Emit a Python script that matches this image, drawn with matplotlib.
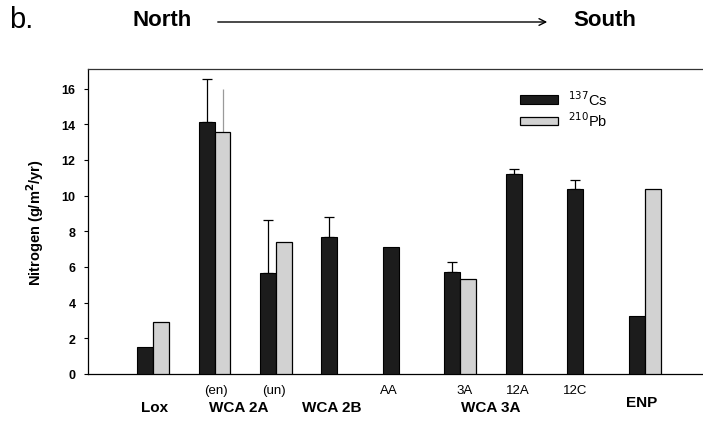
import numpy as np
import matplotlib
matplotlib.use("Agg")
import matplotlib.pyplot as plt

plt.rcParams['font.family'] = ['Liberation Sans', 'DejaVu Sans']

# ---- data ----
groups = ["Lox", "WCA 2A (en)", "WCA 2A (un)", "WCA 2B", "WCA 3A AA",
          "WCA 3A 3A", "WCA 3A 12A", "WCA 3A 12C", "ENP"]
cs_values = [1.5, 14.15, 5.68, 7.7, 7.1, 5.73, 11.24, 10.36, 3.27]
cs_err_up = [0, 2.4, 2.97, 1.1, 0, 0.53, 0.24, 0.51, 0]
pb_values = [2.9, 13.57, 7.38, np.nan, np.nan, 5.32, np.nan, np.nan, 10.4]
pb_err_up = [0, 2.4, 0, 0, 0, 0, 0, 0, 0]
yticks = [0, 2, 4, 6, 8, 10, 12, 14, 16]
sub_labels = ["(en)", "(un)", "AA", "3A", "12A", "12C"]
main_labels = ["Lox", "WCA 2A", "WCA 2B", "WCA 3A", "ENP"]

# ---- layout ----
sub_x = [1.03, 1.96, 3.83, 5.07, 5.93, 6.87]
main_x = [0.02, 1.39, 2.9, 5.5, 7.95]
main_y = [-0.108, -0.108, -0.108, -0.108, -0.092]

W, H = 703, 427
fig = plt.figure(figsize=(W / 100, H / 100), dpi=100)
ax = fig.add_axes([88 / W, 1 - 375 / H, (702 - 88) / W, (375 - 70) / H])

x = np.arange(len(groups))
w = 0.26
cs_color = '#1c1c1c'
pb_color = '#d2d2d2'

ax.bar(x - w / 2, cs_values, w, color=cs_color, edgecolor='black', linewidth=0.8,
       label=r'$^{137}$Cs', zorder=3)
ax.bar(x + w / 2, pb_values, w, color=pb_color, edgecolor='black', linewidth=0.9,
       label=r'$^{210}$Pb', zorder=3)

cs_err = np.array(cs_err_up)
m = cs_err > 0
ax.errorbar((x - w / 2)[m], np.array(cs_values)[m],
            yerr=[np.zeros(m.sum()), cs_err[m]], fmt='none', ecolor='black',
            elinewidth=0.9, capsize=3.5, capthick=0.9, zorder=2)
pb_err = np.array(pb_err_up)
mp = pb_err > 0
ax.errorbar((x + w / 2)[mp], np.array(pb_values)[mp],
            yerr=[np.zeros(mp.sum()), pb_err[mp]], fmt='none', ecolor='#9a9a9a',
            elinewidth=0.9, linestyle=':', capsize=0, zorder=2)

ax.set_xlim(-1.058, 8.93)
ax.set_ylim(0, 17.1)
ax.set_yticks(yticks)
ax.set_yticklabels([str(t) for t in yticks], fontsize=9, fontweight='bold')
ax.tick_params(axis='y', direction='out', length=3, width=0.8, pad=6)
ax.set_xticks([])
ax.spines['right'].set_visible(False)
for s in ['left', 'top', 'bottom']:
    ax.spines[s].set_linewidth(0.9)
ax.spines['top'].set_color('#333333')

ax.set_ylabel('Nitrogen (g/m$^\\mathbf{2}$/yr)', fontsize=10.5, fontweight='bold',
              labelpad=11)

leg = ax.legend(loc='upper left', bbox_to_anchor=(0.7036, 0.935), frameon=False,
                fontsize=10.5, handlelength=2.6, handleheight=0.5,
                handletextpad=0.7, labelspacing=0.2, borderaxespad=0,
                borderpad=0)

trans = ax.get_xaxis_transform()
for lab, xx in zip(sub_labels, sub_x):
    ax.text(xx, -0.052, lab, transform=trans, ha='center', va='center',
            fontsize=9.5)
for lab, xx, yy in zip(main_labels, main_x, main_y):
    ax.text(xx, yy, lab, transform=trans, ha='center', va='center',
            fontsize=11, fontweight='bold')

# header
fig.text(9 / W, 1 - 20 / H, 'b.', fontsize=21, ha='left', va='center')
fig.text(162 / W, 1 - 20 / H, 'North', fontsize=16, fontweight='bold',
         ha='center', va='center')
fig.text(605 / W, 1 - 20 / H, 'South', fontsize=16, fontweight='bold',
         ha='center', va='center')
fig.add_artist(matplotlib.patches.FancyArrowPatch(
    (215 / W, 1 - 23 / H), (550 / W, 1 - 23 / H), transform=fig.transFigure,
    arrowstyle='->', mutation_scale=12, linewidth=1.0, color='black'))

fig.savefig('out.png', dpi=100)
